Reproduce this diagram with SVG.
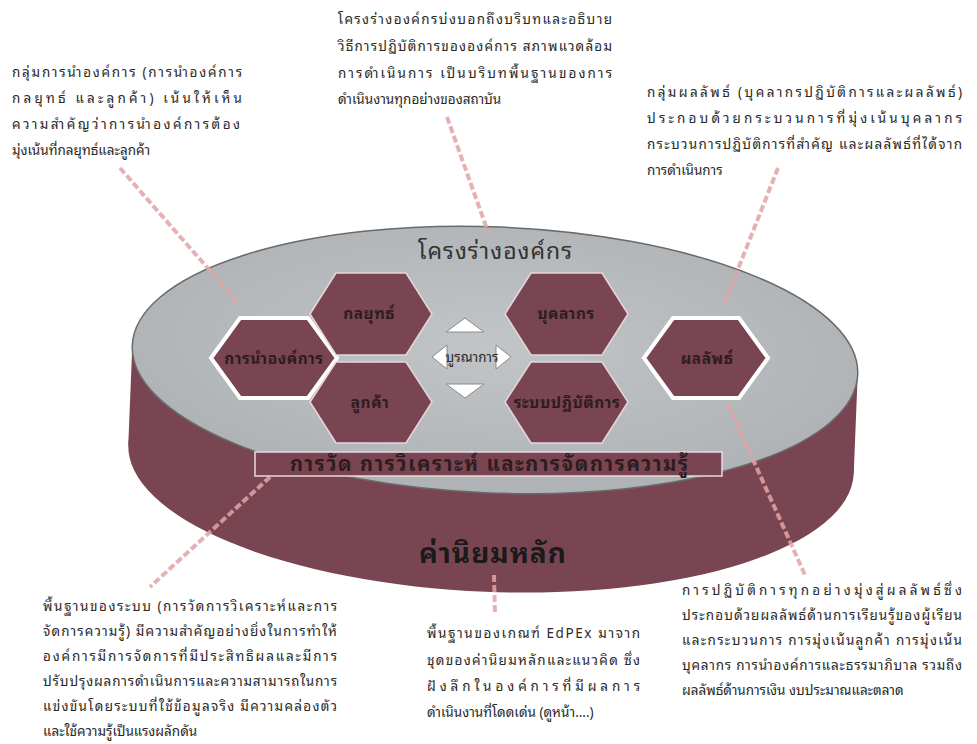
<svg xmlns="http://www.w3.org/2000/svg" width="977" height="744" viewBox="0 0 977 744">
<defs>
<style>
.t{font-family:"Noto Sans Thai Looped","Noto Sans Thai","Tahoma","Loma","Garuda","Noto Sans","DejaVu Sans",sans-serif;font-size:13.5px;fill:#2a2a2a}
.hx{fill:#7a4552}
.hin{stroke:#e6d6da;stroke-width:1.5}
.hout{stroke:#ffffff;stroke-width:4}
.hl{font-family:"Noto Sans Thai Looped","Noto Sans Thai","Tahoma","Loma","Garuda","Noto Sans","DejaVu Sans",sans-serif;font-size:15.5px;font-weight:bold;fill:#2e1c21;text-anchor:middle;letter-spacing:0.5px}
.dash{stroke:#e3a3a6;stroke-width:4;stroke-dasharray:7 3;fill:none;opacity:0.85}
.tri{fill:#ffffff;stroke:#8a8a8a;stroke-width:1}
</style>
<radialGradient id="topg" cx="0.5" cy="0.45" r="0.6">
<stop offset="0" stop-color="#c2c5c8"/>
<stop offset="1" stop-color="#aeb1b4"/>
</radialGradient>
</defs>

<g id="disk" transform="rotate(2.3 495 360)">
<ellipse cx="495" cy="459" rx="363" ry="133" fill="#7a4552"/>
<rect x="132" y="360" width="726" height="99" fill="#7a4552"/>
<ellipse cx="495" cy="360" rx="363" ry="133" fill="url(#topg)" stroke="#6a6a6a" stroke-width="1.5"/>
</g>

<g id="title-framework">
<text x="418" y="259" font-family="'Noto Sans Thai Looped','Noto Sans Thai',Tahoma,Loma,'Noto Sans',sans-serif" font-size="23" fill="#333" textLength="154" lengthAdjust="spacing">โครงร่างองค์กร</text>
</g>
<g id="title-values">
<text x="493" y="563" font-family="'Noto Sans Thai Looped','Noto Sans Thai',Tahoma,Loma,'Noto Sans',sans-serif" font-size="28" font-weight="bold" fill="#1a1a1a" text-anchor="middle" letter-spacing="1">ค่านิยมหลัก</text>
</g>

<g id="connectors">
<line class="dash" x1="120" y1="168" x2="240" y2="305"/>
<line class="dash" x1="447" y1="117" x2="488" y2="232"/>
<line class="dash" x1="778" y1="168" x2="723" y2="307"/>
<line class="dash" x1="728" y1="404" x2="805" y2="575"/>
<line class="dash" x1="270" y1="477" x2="150" y2="587"/>
<line class="dash" x1="494" y1="575" x2="495" y2="615"/>
</g>

<g id="hex-leadership">
<polygon class="hx hout" points="211,358 240,318 308,318 337,358 308,398 240,398"/>
<text class="hl" x="274" y="364">การนำองค์การ</text>
</g>
<g id="hex-strategy">
<polygon class="hx hin" points="310,314 336,273 406,273 432,314 406,355 336,355"/>
<text class="hl" x="369" y="319">กลยุทธ์</text>
</g>
<g id="hex-customer">
<polygon class="hx hin" points="310,402 336,362 406,362 432,402 406,443 336,443"/>
<text class="hl" x="370" y="408">ลูกค้า</text>
</g>
<g id="hex-workforce">
<polygon class="hx hin" points="505,314 531,273 602,273 628,314 602,355 531,355"/>
<text class="hl" x="566" y="319">บุคลากร</text>
</g>
<g id="hex-operations">
<polygon class="hx hin" points="505,402 531,362 602,362 628,402 602,443 531,443"/>
<text class="hl" x="567" y="408">ระบบปฏิบัติการ</text>
</g>
<g id="hex-results">
<polygon class="hx hout" points="644,358 673,318 739,318 768,358 739,398 673,398"/>
<text class="hl" x="707" y="364">ผลลัพธ์</text>
</g>

<g id="integration">
<polygon class="tri" points="446,332 484,332 465,318"/>
<polygon class="tri" points="446,384 484,384 465,398"/>
<polygon class="tri" points="432,357 447,345 447,369"/>
<polygon class="tri" points="511,357 496,345 496,369"/>
<text x="472" y="362" font-family="'Noto Sans Thai Looped','Noto Sans Thai',Tahoma,Loma,'Noto Sans',sans-serif" font-size="13.5" fill="#2a2a2a" text-anchor="middle">บูรณาการ</text>
</g>

<g id="bar-measurement">
<rect x="255" y="452" width="467" height="24" fill="#7a4552" stroke="#ead9dd" stroke-width="1.5"/>
<text x="290" y="471" font-family="'Noto Sans Thai Looped','Noto Sans Thai',Tahoma,Loma,'Noto Sans',sans-serif" font-size="20" font-weight="bold" fill="#2e1c21" textLength="398" lengthAdjust="spacing">การวัด การวิเคราะห์ และการจัดการความรู้</text>
</g>

<g id="note-topleft">
<text class="t" x="12" y="77" textLength="230" lengthAdjust="spacing">กลุ่มการนำองค์การ (การนำองค์การ</text>
<text class="t" x="12" y="103" textLength="230" lengthAdjust="spacing">กลยุทธ์ และลูกค้า) เน้นให้เห็น</text>
<text class="t" x="12" y="129" textLength="228" lengthAdjust="spacing">ความสำคัญว่าการนำองค์การต้อง</text>
<text class="t" x="12" y="155">มุ่งเน้นที่กลยุทธ์และลูกค้า</text>
</g>

<g id="note-topcenter">
<text class="t" x="338" y="24" textLength="274" lengthAdjust="spacing">โครงร่างองค์กรบ่งบอกถึงบริบทและอธิบาย</text>
<text class="t" x="338" y="51" textLength="274" lengthAdjust="spacing">วิธีการปฏิบัติการขององค์การ สภาพแวดล้อม</text>
<text class="t" x="338" y="78" textLength="274" lengthAdjust="spacing">การดำเนินการ เป็นบริบทพื้นฐานของการ</text>
<text class="t" x="338" y="104">ดำเนินงานทุกอย่างของสถาบัน</text>
</g>

<g id="note-topright">
<text class="t" x="647" y="97" textLength="315" lengthAdjust="spacing">กลุ่มผลลัพธ์ (บุคลากรปฏิบัติการและผลลัพธ์)</text>
<text class="t" x="647" y="123" textLength="315" lengthAdjust="spacing">ประกอบด้วยกระบวนการที่มุ่งเน้นบุคลากร</text>
<text class="t" x="647" y="149" textLength="315" lengthAdjust="spacing">กระบวนการปฏิบัติการที่สำคัญ และผลลัพธ์ที่ได้จาก</text>
<text class="t" x="647" y="175">การดำเนินการ</text>
</g>

<g id="note-bottomleft">
<text class="t" x="43" y="611" textLength="294" lengthAdjust="spacing">พื้นฐานของระบบ (การวัดการวิเคราะห์และการ</text>
<text class="t" x="43" y="636" textLength="294" lengthAdjust="spacing">จัดการความรู้) มีความสำคัญอย่างยิ่งในการทำให้</text>
<text class="t" x="43" y="661" textLength="294" lengthAdjust="spacing">องค์การมีการจัดการที่มีประสิทธิผลและมีการ</text>
<text class="t" x="43" y="686" textLength="294" lengthAdjust="spacing">ปรับปรุงผลการดำเนินการและความสามารถในการ</text>
<text class="t" x="43" y="711" textLength="294" lengthAdjust="spacing">แข่งขันโดยระบบที่ใช้ข้อมูลจริง มีความคล่องตัว</text>
<text class="t" x="43" y="736">และใช้ความรู้เป็นแรงผลักดัน</text>
</g>

<g id="note-bottomcenter">
<text class="t" x="427" y="638" textLength="213" lengthAdjust="spacing">พื้นฐานของเกณฑ์ EdPEx มาจาก</text>
<text class="t" x="427" y="665" textLength="213" lengthAdjust="spacing">ชุดของค่านิยมหลักและแนวคิด ซึ่ง</text>
<text class="t" x="427" y="691" textLength="213" lengthAdjust="spacing">ฝังลึกในองค์การที่มีผลการ</text>
<text class="t" x="427" y="717">ดำเนินงานที่โดดเด่น (ดูหน้า....)</text>
</g>

<g id="note-bottomright">
<text class="t" x="682" y="595" textLength="280" lengthAdjust="spacing">การปฏิบัติการทุกอย่างมุ่งสู่ผลลัพธ์ซึ่ง</text>
<text class="t" x="682" y="620" textLength="280" lengthAdjust="spacing">ประกอบด้วยผลลัพธ์ด้านการเรียนรู้ของผู้เรียน</text>
<text class="t" x="682" y="645" textLength="280" lengthAdjust="spacing">และกระบวนการ การมุ่งเน้นลูกค้า การมุ่งเน้น</text>
<text class="t" x="682" y="670" textLength="280" lengthAdjust="spacing">บุคลากร การนำองค์การและธรรมาภิบาล รวมถึง</text>
<text class="t" x="682" y="695">ผลลัพธ์ด้านการเงิน งบประมาณและตลาด</text>
</g>
</svg>
